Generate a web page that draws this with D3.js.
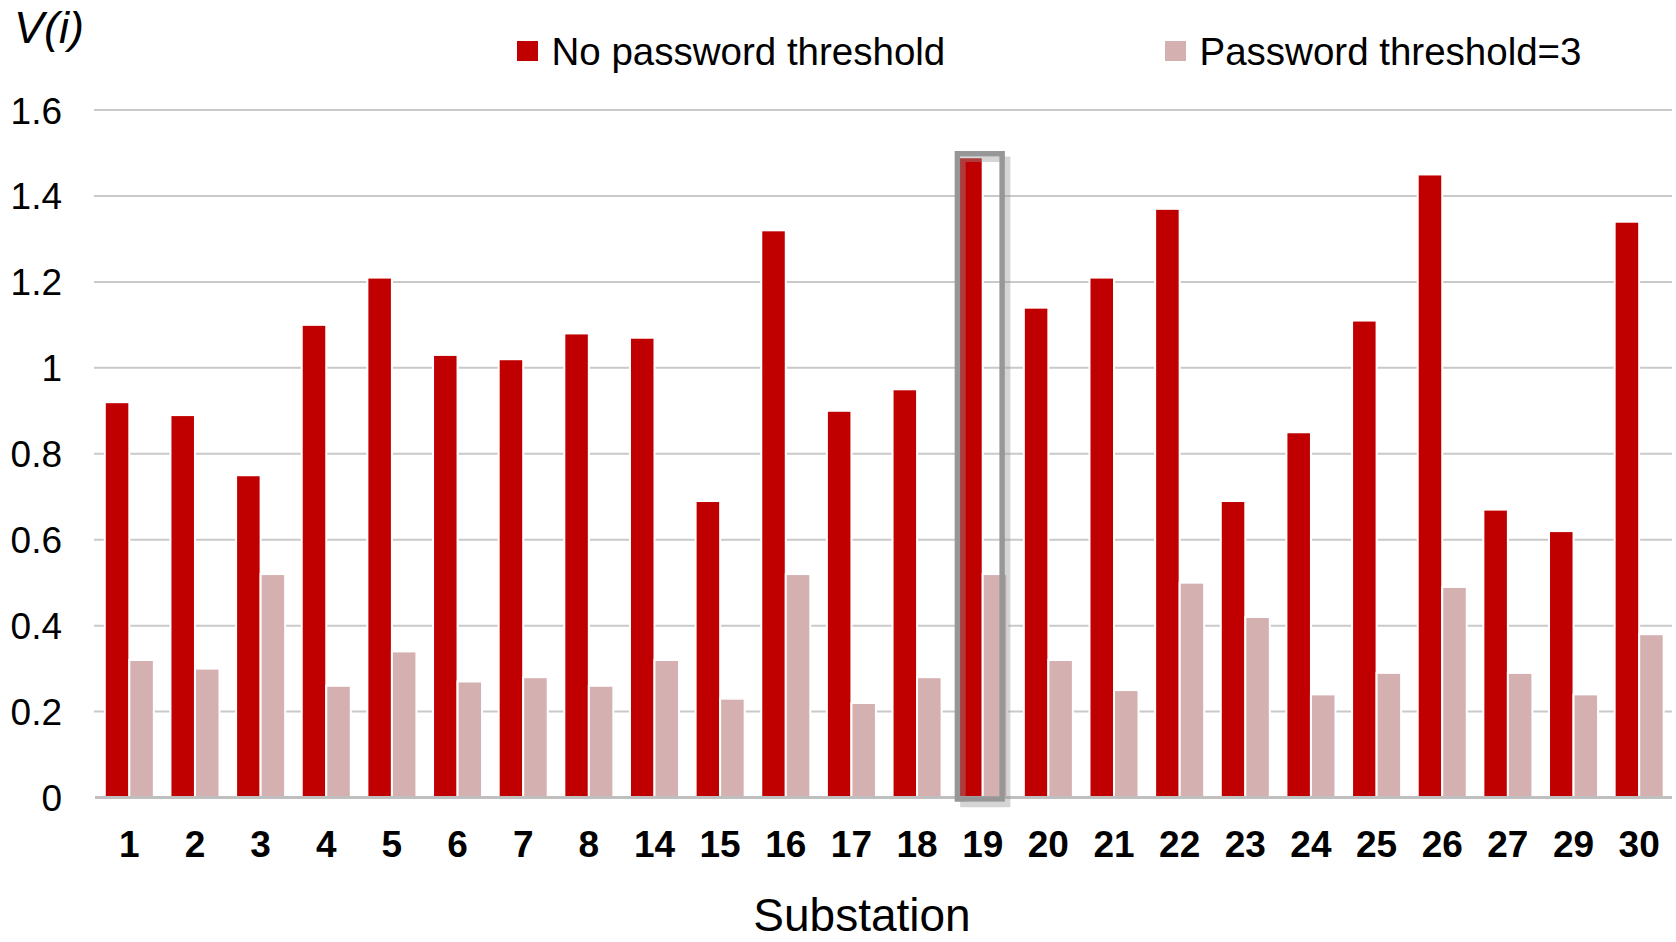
<!DOCTYPE html>
<html>
<head>
<meta charset="utf-8">
<script src="https://cdn.jsdelivr.net/npm/d3@7/dist/d3.min.js"></script>
<style>
  html, body { margin: 0; padding: 0; background: #fff; }
  svg { display: block; font-family: "Liberation Sans", Arial, sans-serif; }
</style>
</head>
<body>
<svg id="chart" width="1676" height="942"></svg>
<script>
const categories = ["1","2","3","4","5","6","7","8","14","15","16","17","18","19","20","21","22","23","24","25","26","27","29","30"];
const noThreshold = [0.92,0.89,0.75,1.10,1.21,1.03,1.02,1.08,1.07,0.69,1.32,0.90,0.95,1.49,1.14,1.21,1.37,0.69,0.85,1.11,1.45,0.67,0.62,1.34];
const threshold3  = [0.32,0.30,0.52,0.26,0.34,0.27,0.28,0.26,0.32,0.23,0.52,0.22,0.28,0.52,0.32,0.25,0.50,0.42,0.24,0.29,0.49,0.29,0.24,0.38];
const seriesNames = ["No password threshold", "Password threshold=3"];
const yTicks = [0, 0.2, 0.4, 0.6, 0.8, 1, 1.2, 1.4, 1.6];
const yTickLabels = ["0","0.2","0.4","0.6","0.8","1","1.2","1.4","1.6"];
const highlighted = "19";

(function () {
const colors = ["#c00000", "#d4b0b0"];
const svg = d3.select("#chart");

const pLeft = 96.5, pRight = 1672, pTop = 110, pBottom = 797.5;
const x0 = d3.scaleBand().domain(categories).range([pLeft, pRight]).paddingInner(0.253).paddingOuter(0.1265);
const x1 = d3.scaleBand().domain(seriesNames).range([0, x0.bandwidth()]).padding(0);
const y = d3.scaleLinear().domain([0, 1.6]).range([pBottom, pTop]);

// gridlines
svg.append("g").selectAll("line").data(yTicks.filter(d => d > 0)).join("line")
  .attr("x1", 94).attr("x2", pRight)
  .attr("y1", d => y(d)).attr("y2", d => y(d))
  .attr("stroke", "#c9c9c9").attr("stroke-width", 2);

// y tick labels
svg.append("g").selectAll("text").data(yTicks).join("text")
  .attr("x", 62).attr("y", d => y(d) + 13.5)
  .attr("text-anchor", "end")
  .attr("font-size", 37).attr("fill", "#000")
  .text((d, i) => yTickLabels[i]);

// bars
const rows = categories.map((c, i) => ({ cat: c, vals: [noThreshold[i], threshold3[i]] }));
const groups = svg.append("g").selectAll("g").data(rows).join("g")
  .attr("transform", d => `translate(${x0(d.cat)},0)`);
groups.selectAll("rect").data(d => d.vals.map((v, j) => ({ key: seriesNames[j], v, j }))).join("rect")
  .attr("x", d => x1(d.key))
  .attr("width", x1.bandwidth())
  .attr("y", d => y(d.v))
  .attr("height", d => y(0) - y(d.v))
  .attr("fill", d => colors[d.j])
  .attr("stroke", "#fff").attr("stroke-width", 2);

// x axis line
svg.append("line").attr("x1", 95).attr("x2", pRight).attr("y1", pBottom).attr("y2", pBottom)
  .attr("stroke", "#bfbfbf").attr("stroke-width", 3);

// x tick labels
svg.append("g").selectAll("text").data(categories).join("text")
  .attr("x", d => x0(d) + x0.bandwidth() / 2)
  .attr("y", 857)
  .attr("text-anchor", "middle")
  .attr("font-size", 37).attr("font-weight", "bold").attr("fill", "#000")
  .text(d => d);

// highlight frame around substation 19
const hi = categories.indexOf(highlighted);
const fx = x0(highlighted) - 0.8, fw = x0.bandwidth() - 4.3;
const fy = y(noThreshold[hi]) - 3.5, fh = y(0) + 1.5 - fy;
svg.append("rect").attr("x", fx + 5.5).attr("y", fy + 5.5).attr("width", fw).attr("height", fh)
  .attr("fill", "none").attr("stroke", "rgba(150,150,150,0.4)").attr("stroke-width", 5.5);
svg.append("rect").attr("x", fx).attr("y", fy).attr("width", fw).attr("height", fh)
  .attr("fill", "none").attr("stroke", "#979797").attr("stroke-width", 5.5);

// y axis title
svg.append("text").attr("x", 14).attr("y", 43)
  .attr("font-size", 45).attr("font-style", "italic").attr("fill", "#000")
  .text("V(i)");

// x axis title
svg.append("text").attr("x", 862).attr("y", 931)
  .attr("text-anchor", "middle").attr("font-size", 46).attr("fill", "#000")
  .text("Substation");

// legend
const legendX = [517, 1165];
const lg = svg.append("g").selectAll("g").data(seriesNames).join("g")
  .attr("transform", (d, i) => `translate(${legendX[i]},0)`);
lg.append("rect").attr("x", 0).attr("y", 41).attr("width", 21).attr("height", 20)
  .attr("fill", (d, i) => colors[i]);
lg.append("text").attr("x", 34.5).attr("y", 64.5)
  .attr("font-size", 38.5).attr("fill", "#000")
  .text(d => d);
})();
</script>
</body>
</html>
